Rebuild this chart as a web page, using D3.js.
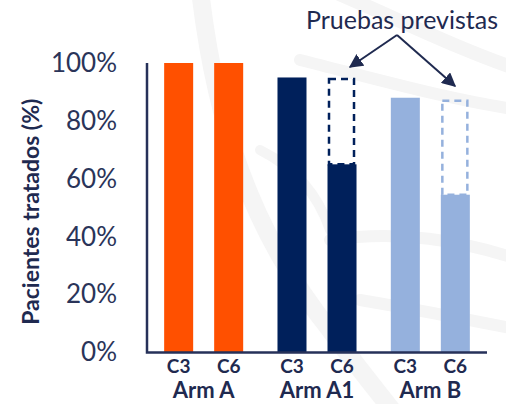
<!DOCTYPE html>
<html>
<head>
<meta charset="utf-8">
<script src="https://cdn.jsdelivr.net/npm/d3@7"></script>
<style>
  body { margin: 0; background: #fff; }
  svg { display: block; font-family: Lato, 'Open Sans', sans-serif; }
</style>
</head>
<body>
<div id="chart"></div>
<script>
// data
var arms = ['Arm A', 'Arm A1', 'Arm B'];
var cycles = ['C3', 'C6'];
var treated = [[1.00, 1.00], [0.95, 0.65], [0.88, 0.545]];
var planned = [[null, null], [null, 0.945], [null, 0.87]];
var armColors = ['#FF5000', '#00205B', '#95B1DD'];
var yTicks = [0, 0.2, 0.4, 0.6, 0.8, 1];

var width = 506, height = 404;
var ink = '#1F2A50';

var svg = d3.select('#chart').append('svg')
    .attr('width', width)
    .attr('height', height);

// faint watermark swooshes in the background
var wm = svg.append('g')
    .attr('fill', 'none')
    .attr('stroke', '#f5f5f5')
    .attr('stroke-linecap', 'round');
wm.append('path').attr('stroke-width', 18)
    .attr('d', 'M200,-10 C215,120 250,230 330,330 C360,370 380,395 400,420');
wm.append('path').attr('stroke-width', 14)
    .attr('d', 'M330,-10 C400,20 460,50 520,70');
wm.append('path').attr('stroke-width', 12)
    .attr('d', 'M300,60 C380,80 450,100 520,110');
wm.append('path').attr('stroke-width', 12)
    .attr('d', 'M330,240 C400,230 460,240 520,260');
wm.append('path').attr('stroke-width', 12)
    .attr('d', 'M360,300 C420,310 470,320 520,330');
wm.append('path').attr('stroke-width', 10)
    .attr('d', 'M260,150 C300,170 320,200 330,230');

// clipped title at the very top
svg.append('text')
    .attr('x', 470)
    .attr('y', -6)
    .attr('text-anchor', 'end')
    .attr('font-weight', 'bold')
    .attr('font-size', 34)
    .attr('fill', ink)
    .text('Adherencia al régimen (ITT)');

var x0 = d3.scaleBand()
    .domain(arms)
    .range([147, 487]);

var x1 = d3.scaleBand()
    .domain(cycles)
    .range([0, x0.bandwidth()])
    .paddingInner(0.42)
    .paddingOuter(0.343);

var y = d3.scaleLinear()
    .domain([0, 1])
    .range([352.5, 63]);

// bars
var groups = svg.selectAll('.arm')
    .data(arms)
    .enter().append('g')
    .attr('class', 'arm')
    .attr('transform', function(d) { return 'translate(' + x0(d) + ',0)'; });

groups.each(function(arm, i) {
  var g = d3.select(this);
  cycles.forEach(function(c, j) {
    var v = treated[i][j];
    g.append('rect')
        .attr('x', x1(c))
        .attr('y', y(v))
        .attr('width', x1.bandwidth())
        .attr('height', y(0) - y(v))
        .attr('fill', armColors[i]);
    var p = planned[i][j];
    if (p != null) {
      g.append('rect')
          .attr('x', x1(c) + 1.5)
          .attr('y', y(p))
          .attr('width', x1.bandwidth() - 4)
          .attr('height', y(v) - y(p))
          .attr('fill', 'none')
          .attr('stroke', armColors[i])
          .attr('stroke-width', 2.5)
          .attr('stroke-dasharray', '7,5');
    }
    g.append('text')
        .attr('x', x1(c) + x1.bandwidth() / 2)
        .attr('y', 373)
        .attr('text-anchor', 'middle')
        .attr('font-weight', 'bold')
        .attr('font-size', 19)
        .attr('fill', ink)
        .text(c);
  });
  g.append('text')
      .attr('x', x0.bandwidth() / 2)
      .attr('y', 398)
      .attr('text-anchor', 'middle')
      .attr('font-weight', 'bold')
      .attr('font-size', 22)
      .attr('fill', ink)
      .text(arm);
});

// y axis
var yAxis = d3.axisLeft(y)
    .tickValues(yTicks)
    .tickSize(0)
    .tickPadding(30)
    .tickFormat(d3.format('.0%'));

var ay = svg.append('g')
    .attr('transform', 'translate(147,0)')
    .call(yAxis);
ay.select('.domain').remove();
ay.selectAll('text')
    .attr('font-family', 'Lato, sans-serif')
    .attr('font-size', 26)
    .attr('fill', '#2A3459');

svg.append('path')
    .attr('d', 'M147,' + y(1) + 'V' + y(0) + 'H487')
    .attr('fill', 'none')
    .attr('stroke', '#263159')
    .attr('stroke-width', 2.5);

svg.append('text')
    .attr('transform', 'translate(39,' + ((y(0) + y(1)) / 2 + 4) + ') rotate(-90)')
    .attr('text-anchor', 'middle')
    .attr('font-weight', 'bold')
    .attr('font-size', 23)
    .attr('fill', ink)
    .text('Pacientes tratados (%)');

// annotation
svg.append('text')
    .attr('x', 402)
    .attr('y', 29)
    .attr('text-anchor', 'middle')
    .attr('font-size', 25)
    .attr('fill', ink)
    .text('Pruebas previstas');

svg.append('defs').append('marker')
    .attr('id', 'head')
    .attr('viewBox', '0 0 10 10')
    .attr('refX', 9)
    .attr('refY', 5)
    .attr('markerWidth', 7)
    .attr('markerHeight', 7)
    .attr('markerUnits', 'strokeWidth')
    .attr('orient', 'auto')
    .append('path')
    .attr('d', 'M0,0L10,5L0,10z')
    .attr('fill', ink);

var apex = [397, 35];
[[350, 67], [455, 86]].forEach(function(t) {
  svg.append('line')
      .attr('x1', apex[0]).attr('y1', apex[1])
      .attr('x2', t[0]).attr('y2', t[1])
      .attr('stroke', ink)
      .attr('stroke-width', 2)
      .attr('marker-end', 'url(#head)');
});
</script>
</body>
</html>
